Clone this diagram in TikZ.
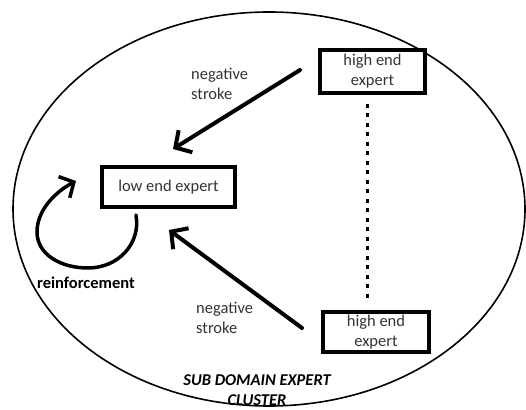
\documentclass[tikz,border=0pt]{standalone}
\usepackage{fontspec}
\setmainfont{Carlito}
\usetikzlibrary{arrows.meta,calc}
\definecolor{inkgray}{HTML}{333333}
\newcommand{\labelsize}{\fontsize{16.5}{20}\selectfont}
\begin{document}
\begin{tikzpicture}[x=1pt,y=1pt,
  font=\labelsize,
  expbox/.style={draw=black, line width=4pt, rectangle, inner sep=0pt,
                 align=center, text=inkgray},
  strokearrow/.style={line width=4pt, line cap=round,
                 -{Straight Barb[length=12pt,width=26pt]}},
  loopline/.style={line width=3.5pt, line cap=round,
                 -{Straight Barb[length=11pt,width=24pt]}},
  linkdots/.style={line width=3pt, dash pattern=on 4pt off 5.5pt},
  lbl/.style={align=left, text=inkgray, inner sep=0pt},
  boldlbl/.style={font={\labelsize\bfseries}, inner sep=0pt}]
\useasboundingbox (0,0) rectangle (526,409);

% cluster outline
\draw[line width=1.6pt] (269,200) ellipse[x radius=256, y radius=197];

% experts
\node[expbox, minimum width=105pt, minimum height=43pt] (hi1) at (372.5,337.5) {high end\\expert};
\node[expbox, minimum width=133pt, minimum height=40pt] (low) at (168.5,222) {low end expert};
\node[expbox, minimum width=106pt, minimum height=40pt] (hi2) at (376,77) {high end\\expert};

% negative strokes towards the low end expert
\draw[strokearrow] ($(hi1.west)+(-18,1.5)$) -- ($(low.north)+(4.5,16)$);
\draw[strokearrow] ($(hi2.west)+(-19,4)$) -- ($(low.south)+(0.5,-21)$);

% link between the high end experts
\draw[linkdots] ($(hi1.south)+(-5.5,-9)$) -- ($(hi2.north)+(-9,10)$);

% self reinforcement loop
\coordinate (loopstart) at ($(low.south west)+(36,-6)$);
\coordinate (looptip) at (76,228);
\draw[loopline] (loopstart) .. controls (141,165) and (118,141) .. (88,141)
  .. controls (60,141) and (37,155) .. (37,177)
  .. controls (37,200) and (57,218) .. (looptip);

% labels
\node[lbl, anchor=west] (neg1) at (191,325) {negative\\stroke};
\node[lbl, anchor=west] (neg2) at (196,91) {negative\\stroke};
\node[boldlbl] (reinf) at (86,126) {reinforcement};
\node[boldlbl, font={\labelsize\bfseries\itshape}, align=center] (clusterlbl) at (257,18.5) {SUB DOMAIN EXPERT\\CLUSTER};
\end{tikzpicture}
\end{document}
